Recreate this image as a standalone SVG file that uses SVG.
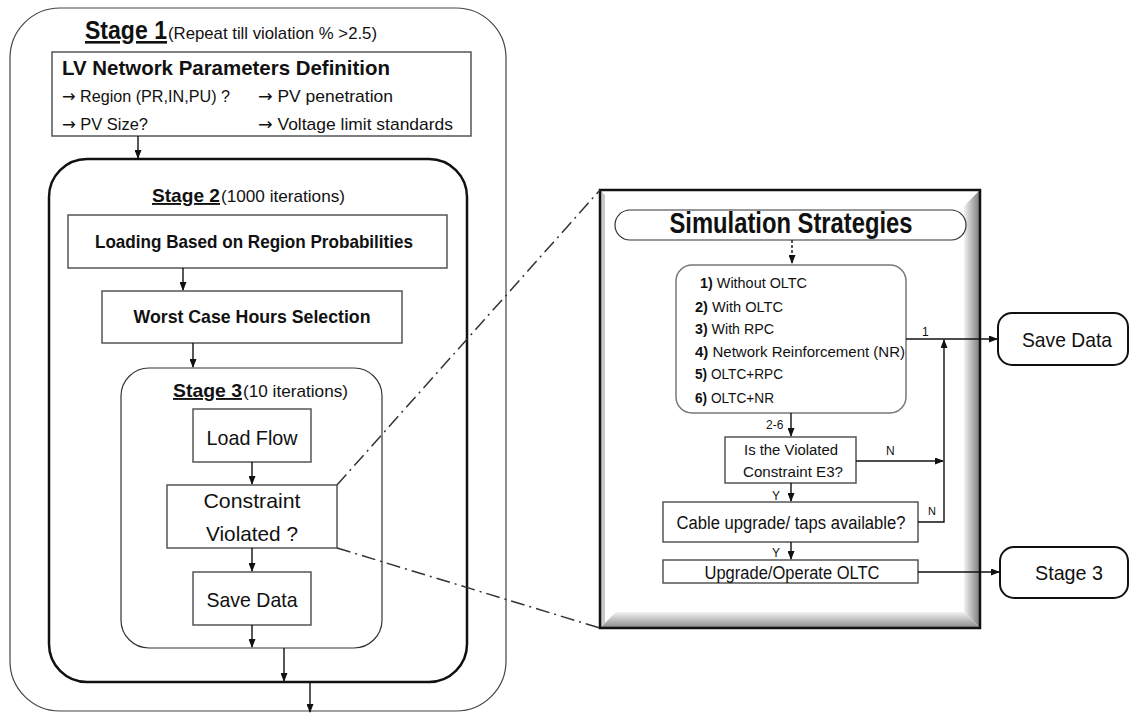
<svg xmlns="http://www.w3.org/2000/svg" width="1130" height="713" viewBox="0 0 1130 713">
<defs>
<style>
text{font-family:"Liberation Sans",Arial,sans-serif;fill:#111;}
.b{font-weight:bold;}
.u{text-decoration:underline;}
.ar{font-family:"DejaVu Sans",sans-serif;}
.box{fill:#fff;stroke:#555;stroke-width:1.5;}
.con{fill:none;stroke:#111;stroke-width:1.4;}
.dd{fill:none;stroke:#333;stroke-width:1.5;stroke-dasharray:14 5 2 5;}
.mid{text-anchor:middle;}
</style>
<marker id="ah" markerWidth="9" markerHeight="7" refX="8" refY="3.5" orient="auto" markerUnits="userSpaceOnUse">
<path d="M0,0 L9,3.5 L0,7 z" fill="#111"/>
</marker>
<linearGradient id="gr" x1="0" y1="0" x2="1" y2="0">
<stop offset="0" stop-color="#f2f2f2"/><stop offset="1" stop-color="#7a7a7a"/>
</linearGradient>
<linearGradient id="gb" x1="0" y1="0" x2="0" y2="1">
<stop offset="0" stop-color="#f2f2f2"/><stop offset="1" stop-color="#8a8a8a"/>
</linearGradient>
</defs>
<rect width="1130" height="713" fill="#fff"/>

<g id="stage1">
<rect x="10" y="8" width="496" height="703" rx="50" fill="none" stroke="#444" stroke-width="1.2"/>
<text x="85" y="39" class="b u" font-size="26" textLength="82" lengthAdjust="spacingAndGlyphs">Stage 1</text>
<text x="168" y="39" font-size="17" textLength="209" lengthAdjust="spacingAndGlyphs">(Repeat till violation % &gt;2.5)</text>
</g>

<g id="lv-params">
<rect x="52" y="52" width="419" height="84" class="box"/>
<text x="62" y="75" class="b" font-size="21" textLength="328" lengthAdjust="spacingAndGlyphs">LV Network Parameters Definition</text>
<text x="62" y="102" font-size="17" textLength="168" lengthAdjust="spacingAndGlyphs"><tspan class="ar">→</tspan> Region (PR,IN,PU) ?</text>
<text x="258" y="102" font-size="17" textLength="135" lengthAdjust="spacingAndGlyphs"><tspan class="ar">→</tspan>  PV penetration</text>
<text x="62" y="130" font-size="17" textLength="86" lengthAdjust="spacingAndGlyphs"><tspan class="ar">→</tspan> PV Size?</text>
<text x="258" y="130" font-size="17" textLength="195" lengthAdjust="spacingAndGlyphs"><tspan class="ar">→</tspan>  Voltage limit standards</text>
</g>

<g id="stage2">
<rect x="49" y="159" width="418" height="523" rx="38" fill="none" stroke="#111" stroke-width="2.5"/>
<text x="152" y="202" class="b u" font-size="19" textLength="68" lengthAdjust="spacingAndGlyphs">Stage 2</text>
<text x="221" y="202" font-size="17" textLength="124" lengthAdjust="spacingAndGlyphs">(1000 iterations)</text>
</g>

<g id="loading">
<rect x="68" y="215" width="379" height="53" class="box"/>
<text x="254" y="248" class="b mid" font-size="18.5" textLength="318" lengthAdjust="spacingAndGlyphs">Loading Based on Region Probabilities</text>
</g>

<g id="worst-case">
<rect x="102" y="291" width="300" height="52" class="box"/>
<text x="252" y="323" class="b mid" font-size="18.5" textLength="237" lengthAdjust="spacingAndGlyphs">Worst Case Hours Selection</text>
</g>

<g id="stage3">
<rect x="121" y="368" width="261" height="280" rx="28" fill="none" stroke="#333" stroke-width="1.2"/>
<text x="173" y="397" class="b u" font-size="19" textLength="69" lengthAdjust="spacingAndGlyphs">Stage 3</text>
<text x="243" y="397" font-size="17" textLength="105" lengthAdjust="spacingAndGlyphs">(10 iterations)</text>
</g>

<g id="load-flow">
<rect x="193" y="409" width="118" height="53" class="box"/>
<text x="252" y="445" class="mid" font-size="21" textLength="91" lengthAdjust="spacingAndGlyphs">Load Flow</text>
</g>

<g id="constraint">
<rect x="167" y="485" width="170" height="63" class="box"/>
<text x="252" y="508" class="mid" font-size="21" textLength="97" lengthAdjust="spacingAndGlyphs">Constraint</text>
<text x="252" y="541" class="mid" font-size="21" textLength="92" lengthAdjust="spacingAndGlyphs">Violated ?</text>
</g>

<g id="save-data-left">
<rect x="193" y="572" width="118" height="53" class="box"/>
<text x="252" y="607" class="mid" font-size="21" textLength="91" lengthAdjust="spacingAndGlyphs">Save Data</text>
</g>

<g id="sim-panel">
<rect x="600" y="190" width="380" height="438" fill="#fff"/>
<polygon points="980,190 980,628 964,612 964,206" fill="url(#gr)"/>
<polygon points="600,628 980,628 964,612 616,612" fill="url(#gb)"/>
<polygon points="600,190 600,628 605,623 605,195" fill="#c8c8c8"/>
<rect x="600" y="190" width="380" height="438" fill="none" stroke="#111" stroke-width="2.5"/>
</g>

<g id="sim-title">
<rect x="615" y="210" width="351" height="30" rx="15" fill="#fff" stroke="#333" stroke-width="1.2"/>
<text x="791" y="233" class="b mid" font-size="29" textLength="243" lengthAdjust="spacingAndGlyphs">Simulation Strategies</text>
</g>

<g id="options">
<rect x="676" y="265" width="230" height="148" rx="16" fill="#fff" stroke="#777" stroke-width="1.5"/>
<text x="700" y="288" font-size="15.5" textLength="107" lengthAdjust="spacingAndGlyphs"><tspan class="b">1)</tspan> Without OLTC</text>
<text x="695" y="312" font-size="15.5" textLength="88" lengthAdjust="spacingAndGlyphs"><tspan class="b">2)</tspan> With OLTC</text>
<text x="695" y="334" font-size="15.5" textLength="79" lengthAdjust="spacingAndGlyphs"><tspan class="b">3)</tspan> With RPC</text>
<text x="695" y="357" font-size="15.5" textLength="210" lengthAdjust="spacingAndGlyphs"><tspan class="b">4)</tspan> Network Reinforcement (NR)</text>
<text x="695" y="379" font-size="15.5" textLength="88" lengthAdjust="spacingAndGlyphs"><tspan class="b">5)</tspan> OLTC+RPC</text>
<text x="695" y="403" font-size="15.5" textLength="79" lengthAdjust="spacingAndGlyphs"><tspan class="b">6)</tspan> OLTC+NR</text>
</g>

<g id="is-violated">
<rect x="725" y="437" width="131" height="46" class="box"/>
<text x="791" y="455" class="mid" font-size="15.5" textLength="94" lengthAdjust="spacingAndGlyphs">Is the Violated</text>
<text x="793" y="477" class="mid" font-size="15.5" textLength="100" lengthAdjust="spacingAndGlyphs">Constraint E3?</text>
</g>

<g id="cable-upgrade">
<rect x="663" y="502" width="255" height="40" class="box"/>
<text x="791" y="529" class="mid" font-size="18" textLength="229" lengthAdjust="spacingAndGlyphs">Cable upgrade/ taps available?</text>
</g>

<g id="upgrade-oltc">
<rect x="663" y="560" width="255" height="23" class="box"/>
<text x="792" y="579" class="mid" font-size="17.5" textLength="175" lengthAdjust="spacingAndGlyphs">Upgrade/Operate OLTC</text>
</g>

<g id="save-data-right">
<rect x="998" y="313" width="130" height="52" rx="14" fill="#fff" stroke="#111" stroke-width="2"/>
<text x="1067" y="347" class="mid" font-size="21" textLength="90" lengthAdjust="spacingAndGlyphs">Save Data</text>
</g>

<g id="stage3-right">
<rect x="1000" y="547" width="128" height="51" rx="14" fill="#fff" stroke="#111" stroke-width="2"/>
<text x="1069" y="580" class="mid" font-size="21" textLength="68" lengthAdjust="spacingAndGlyphs">Stage 3</text>
</g>

<g id="connectors">
<line x1="138" y1="136" x2="138" y2="158" class="con" marker-end="url(#ah)"/>
<line x1="183" y1="268" x2="183" y2="290" class="con" marker-end="url(#ah)"/>
<line x1="193" y1="343" x2="193" y2="367" class="con" marker-end="url(#ah)"/>
<line x1="252" y1="462" x2="252" y2="484" class="con" marker-end="url(#ah)"/>
<line x1="252" y1="548" x2="252" y2="571" class="con" marker-end="url(#ah)"/>
<line x1="252" y1="625" x2="252" y2="647" class="con" marker-end="url(#ah)"/>
<line x1="284" y1="648" x2="284" y2="681" class="con" marker-end="url(#ah)"/>
<line x1="310" y1="682" x2="310" y2="712" class="con" marker-end="url(#ah)"/>
<line x1="337" y1="485" x2="600" y2="190" class="dd"/>
<line x1="337" y1="548" x2="600" y2="628" class="dd"/>
<line x1="792" y1="240" x2="792" y2="263" class="con" stroke-dasharray="3 2" marker-end="url(#ah)"/>
<line x1="906" y1="339" x2="997" y2="339" class="con" marker-end="url(#ah)"/>
<text x="922" y="336" font-size="12">1</text>
<polyline points="918,522 944,522 944,340" class="con" marker-end="url(#ah)"/>
<text x="928" y="515" font-size="11">N</text>
<line x1="791" y1="413" x2="791" y2="436" class="con" marker-end="url(#ah)"/>
<text x="766" y="429" font-size="12">2-6</text>
<line x1="856" y1="461" x2="943" y2="461" class="con" marker-end="url(#ah)"/>
<text x="886" y="455" font-size="12">N</text>
<line x1="791" y1="483" x2="791" y2="501" class="con" marker-end="url(#ah)"/>
<text x="772" y="500" font-size="12">Y</text>
<line x1="791" y1="542" x2="791" y2="559" class="con" marker-end="url(#ah)"/>
<text x="772" y="557" font-size="12">Y</text>
<line x1="918" y1="572" x2="999" y2="572" class="con" marker-end="url(#ah)"/>
</g>
</svg>
